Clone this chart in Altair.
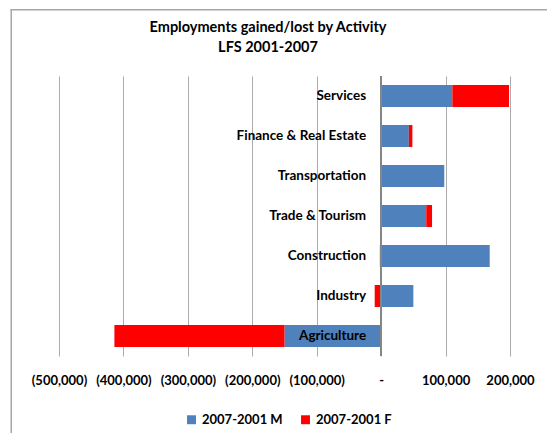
import altair as alt
import pandas as pd

categories = ["Services", "Finance & Real Estate", "Transportation", "Trade & Tourism",
              "Construction", "Industry", "Agriculture"]
male = [110500, 43000, 98000, 70000, 168500, 50000, -150000]
female = [88000, 5500, 0, 9000, -2000, -10000, -264000]
series = ["2007-2001 M", "2007-2001 F"]
colors = ["#4F81BD", "#FF0000"]
tick_values = [-500000, -400000, -300000, -200000, -100000, 0, 100000, 200000]
title_lines = ["Employments gained/lost by Activity", "LFS 2001-2007"]

rows = []
for c, m, f in zip(categories, male, female):
    rows.append({"cat": c, "series": series[0], "value": m, "ord": 0})
    rows.append({"cat": c, "series": series[1], "value": f, "ord": 1})
df = pd.DataFrame(rows)
lab_df = pd.DataFrame({"cat": categories})
frame_df = pd.DataFrame({"k": [0]})
title_df = pd.DataFrame({"line": title_lines, "row": [0, 1]})

FONT = "Lato"
xscale = alt.Scale(domain=[-500000, 200000], nice=False, zero=False)
yenc = alt.Y("cat:N", sort=categories, axis=None,
             scale=alt.Scale(paddingInner=0.45, paddingOuter=0.225))

label_expr = ("datum.value < 0 ? '(' + format(-datum.value, ',') + ')' : "
              "(datum.value == 0 ? '-' : format(datum.value, ','))")

bars = alt.Chart(df).mark_bar().encode(
    x=alt.X("value:Q", scale=xscale, stack="zero",
            axis=alt.Axis(values=tick_values, labelExpr=label_expr, title=None,
                          grid=True, gridColor="#ABABAB", gridWidth=1,
                          ticks=False, domain=False, labelFont=FONT,
                          labelFontWeight="bold", labelFontSize=13,
                          labelPadding=18, labelColor="black",
                          labelFlush=False)),
    y=yenc,
    color=alt.Color("series:N", scale=alt.Scale(domain=series, range=colors),
                    legend=alt.Legend(orient="none", legendX=126, legendY=337,
                                      direction="horizontal", title=None,
                                      symbolType="square", symbolSize=80,
                                      symbolStrokeWidth=0, labelFont=FONT,
                                      labelFontWeight="bold", labelFontSize=13,
                                      labelColor="black", columnPadding=16)),
    order=alt.Order("ord:Q"),
)

zero_rule = alt.Chart(lab_df).mark_rule(color="#868686", strokeWidth=1.5).encode(
    x=alt.datum(0)
)

labels = alt.Chart(lab_df).mark_text(
    align="right", baseline="middle", dx=-15, font=FONT, fontWeight="bold",
    fontSize=13.5, color="black"
).encode(
    x=alt.datum(0),
    y=yenc,
    text="cat:N",
)

title_text = alt.Chart(title_df).mark_text(
    align="center", baseline="middle", font=FONT, fontWeight="bold",
    fontSize=14.5, color="black"
).encode(
    x=alt.value(209),
    y=alt.Y("row:Q", axis=None, scale=alt.Scale(domain=[0, 1], range=[-48, -28])),
    text="line:N",
)

frame_left = alt.Chart(frame_df).mark_rect(color="#A6A6A6").encode(
    x=alt.value(-48.5), x2=alt.value(-47), y=alt.value(-67), y2=alt.value(380)
)
frame_top = alt.Chart(frame_df).mark_rect(color="#A6A6A6").encode(
    x=alt.value(-48.5), x2=alt.value(520), y=alt.value(-67), y2=alt.value(-65.5)
)

chart = alt.layer(bars, zero_rule, labels, title_text, frame_left, frame_top).resolve_scale(
    y="independent"
).properties(
    width=451, height=280,
    autosize=alt.AutoSizeParams(type="none"),
    padding={"left": 51, "top": 68, "right": 37, "bottom": 77},
).configure(background="white").configure_view(stroke=None)

chart.save("out.html", embed_options={"renderer": "svg", "actions": False})
